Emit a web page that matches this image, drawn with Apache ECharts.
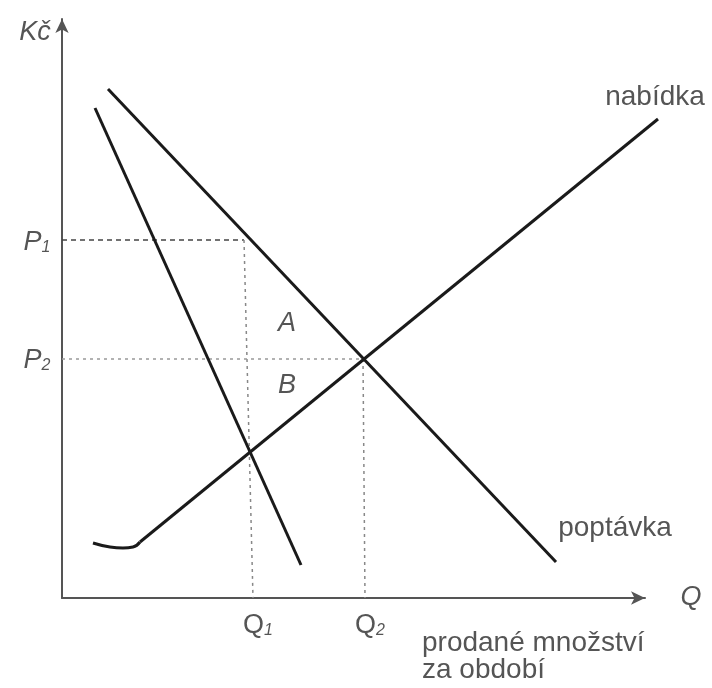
<!DOCTYPE html>
<html>
<head>
    <meta charset="utf-8">
    <title>nabídka a poptávka</title>
    <script src="https://cdn.jsdelivr.net/npm/echarts@6/dist/echarts.min.js"></script>
    <style>
        html, body { margin: 0; padding: 0; background: #fff; }
        #chart { width: 712px; height: 688px; }
    </style>
</head>
<body>
<div id="chart"></div>
<script type="text/javascript">
    // hodnoty (osa Q vodorovně, Kč svisle)
    var steepQ = [3.3, 23.9];
    var steepP = [49.0, 3.3];
    var demandQ = [4.6, 49.4];
    var demandP = [50.9, 3.6];
    var supplyHookQ = [3.1, 4.8, 6.1, 7.1, 7.8];
    var supplyHookP = [5.5, 5.1, 5.0, 5.1, 5.6];
    var supplyQ = [7.8, 59.6];
    var supplyP = [5.6, 47.9];
    var p1LineQ = [0, 18.2];
    var p1LineP = [35.8, 35.8];
    var q1LineQ = [18.2, 19.1];
    var q1LineP = [35.8, 0];
    var p2LineQ = [0, 30.1];
    var p2LineP = [23.9, 23.9];
    var q2LineQ = [30.1, 30.3];
    var q2LineP = [23.9, 0];

    // popisky
    var labelTexts = ['{i|Kč}', '{i|P}{si|1}', '{i|P}{si|2}', '{i|A}', '{i|B}',
        '{n|Q}{si|1}', '{n|Q}{si|2}', '{i|Q}', 'nabídka', 'poptávka'];
    var labelQ = [-2.7, -2.5, -2.5, 22.5, 22.5, 19.6, 30.8, 62.9, 59.3, 55.3];
    var labelP = [56.6, 35.6, 23.8, 27.5, 21.3, -2.7, -2.7, 0.1, 50.1, 7.0];
    var axisTitle = 'prodané množství\nza období';
    var axisTitleQ = 36.0;
    var axisTitleP = -5.85;

    function pairs(xs, ys) {
        var out = [];
        for (var i = 0; i < xs.length; i++) out.push([xs[i], ys[i]]);
        return out;
    }

    var textColor = '#2b2b2b';
    var font = '"Liberation Sans", Arial, sans-serif';
    var rich = {
        i: { fontSize: 27, fontStyle: 'italic', lineHeight: 28, verticalAlign: 'bottom', color: textColor, fontFamily: font },
        n: { fontSize: 27, lineHeight: 28, verticalAlign: 'bottom', color: textColor, fontFamily: font },
        si: { fontSize: 16, fontStyle: 'italic', lineHeight: 18, verticalAlign: 'bottom', color: textColor, fontFamily: font }
    };

    // vše se kreslí do druhé (skryté) mřížky, která je o kus širší než viditelné osy
    function curve(name, xs, ys, smooth) {
        return {
            name: name, type: 'line', data: pairs(xs, ys), symbol: 'none',
            xAxisIndex: 1, yAxisIndex: 1,
            smooth: smooth || false, clip: false, silent: true,
            lineStyle: { color: '#1a1a1a', width: 3 }
        };
    }
    function guide(name, xs, ys, color, dash) {
        return {
            name: name, type: 'line', data: pairs(xs, ys), symbol: 'none',
            xAxisIndex: 1, yAxisIndex: 1,
            clip: false, silent: true, z: 1,
            lineStyle: { color: color, width: 1.5, type: dash }
        };
    }

    var labelData = [];
    for (var k = 0; k < labelTexts.length; k++) {
        labelData.push({ value: [labelQ[k], labelP[k]], text: labelTexts[k] });
    }

    var hiddenAxis = {
        axisLine: { show: false }, axisTick: { show: false },
        axisLabel: { show: false }, splitLine: { show: false }
    };
    var arrowLine = { show: true, symbol: ['none', 'arrow'], symbolSize: [10, 14],
        lineStyle: { color: '#555', width: 2 } };

    var myChart = echarts.init(document.getElementById('chart'));
    myChart.setOption({
        animation: false,
        backgroundColor: '#fff',
        grid: [
            { left: 62, right: 67, top: 19, bottom: 90 },
            { left: 62, right: 42, top: 19, bottom: 90 }
        ],
        xAxis: [
            Object.assign({ type: 'value', gridIndex: 0, min: 0, max: 58.3 }, hiddenAxis, { axisLine: arrowLine }),
            Object.assign({ type: 'value', gridIndex: 1, min: 0, max: 60.8 }, hiddenAxis)
        ],
        yAxis: [
            Object.assign({ type: 'value', gridIndex: 0, min: 0, max: 57.9 }, hiddenAxis, { axisLine: arrowLine }),
            Object.assign({ type: 'value', gridIndex: 1, min: 0, max: 57.9 }, hiddenAxis)
        ],
        series: [
            guide('P1', p1LineQ, p1LineP, '#444', [5, 4]),
            guide('Q1', q1LineQ, q1LineP, '#888', [3, 4]),
            guide('P2', p2LineQ, p2LineP, '#999', [3, 4]),
            guide('Q2', q2LineQ, q2LineP, '#888', [3, 4]),
            curve('poptávka 2', steepQ, steepP),
            curve('poptávka', demandQ, demandP),
            curve('nabídka oblouk', supplyHookQ, supplyHookP, 0.5),
            curve('nabídka', supplyQ, supplyP),
            {
                type: 'scatter', symbolSize: 0, clip: false, silent: true,
                xAxisIndex: 1, yAxisIndex: 1,
                data: labelData,
                label: {
                    show: true, position: [0, 0], align: 'center', verticalAlign: 'middle',
                    formatter: function (p) { return p.data.text; },
                    fontSize: 28, color: textColor, fontFamily: font, rich: rich
                }
            },
            {
                type: 'scatter', symbolSize: 0, clip: false, silent: true,
                xAxisIndex: 1, yAxisIndex: 1,
                data: [[axisTitleQ, axisTitleP]],
                label: {
                    show: true, position: [0, 0], align: 'left', verticalAlign: 'middle',
                    formatter: axisTitle, fontSize: 28, lineHeight: 27,
                    color: textColor, fontFamily: font
                }
            }
        ]
    });
</script>
</body>
</html>
